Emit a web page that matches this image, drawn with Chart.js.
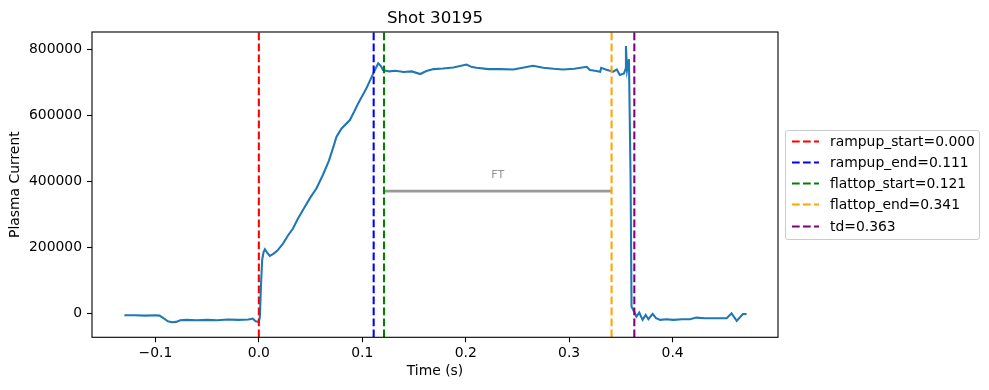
<!DOCTYPE html>
<html><head><meta charset="utf-8">
<script src="https://cdn.jsdelivr.net/npm/chart.js@4/dist/chart.umd.min.js"></script>
<style>
html,body{margin:0;padding:0;background:#fff;}
#wrap{position:relative;width:989px;height:390px;font-family:"DejaVu Sans",sans-serif;}
#c{position:absolute;left:0;top:0;}
#title{position:absolute;left:92px;width:686px;top:8px;line-height:20px;text-align:center;font-size:16.67px;color:#000;}
#legend{position:absolute;left:785px;top:130px;width:195px;height:110px;border:1px solid #cccccc;border-radius:3px;box-sizing:border-box;background:#fff;}
.row{position:absolute;left:0;height:20px;line-height:20px;font-size:13.9px;white-space:nowrap;color:#000;}
.row svg{position:absolute;left:5.7px;top:9px;}
.row span{position:absolute;left:44px;top:0;}
</style></head>
<body>
<div id="wrap">
<canvas id="c" width="989" height="390"></canvas>
<div id="title">Shot 30195</div>
<div id="legend"></div>
</div>
<script>
// ---- data ----
const shotTitle = 'Shot 30195';
const timeS = [
-0.130,-0.120,-0.110,-0.100,-0.096,-0.092,-0.088,-0.084,-0.080,-0.076,-0.070,-0.060,-0.050,-0.040,-0.030,-0.020,-0.010,-0.006,-0.003,0.000,
0.001,0.002,0.0032,0.0045,0.0058,0.008,0.0106,0.014,0.018,0.0235,0.028,0.033,0.038,0.0445,0.050,0.0558,0.062,0.0677,0.0719,0.0751,
0.080,0.088,0.092,0.096,0.104,0.1106,0.1154,0.118,0.120,0.126,0.132,0.140,0.148,0.156,0.162,0.1689,0.178,0.188,0.2008,0.206,
0.2105,0.222,0.2331,0.246,0.255,0.265,0.275,0.285,0.294,0.305,0.317,0.320,0.325,0.330,0.331,0.336,0.3427,0.346,0.349,0.353,
0.3545,0.3549,0.3556,0.356,0.3578,0.3594,0.3603,0.362,0.365,0.3678,0.371,0.374,0.3766,0.3807,0.384,0.388,0.394,0.4007,0.409,0.4168,
0.423,0.431,0.439,0.4523,0.457,0.462,0.468,0.4715];
const plasmaCurrent = [
-6000,-6000,-7000,-6000,-7000,-15000,-24000,-27000,-26000,-21000,-20000,-21000,-20000,-21000,-19000,-20000,-19000,-16000,-24000,-26000,
-10000,80000,161000,185000,194000,184000,174000,180000,190000,212000,235000,257000,288000,323000,352000,379000,420000,462000,503000,535000,
560000,585700,610000,636000,681700,727000,757500,749000,737000,733000,735000,731000,733000,725000,734000,740000,742000,745000,754000,746000,
744000,740000,740000,739000,744000,750000,744000,741000,739000,741000,747000,737000,735000,732000,744000,738000,732000,739000,722000,727000,
740000,810000,760000,737000,770000,400000,20000,10000,-10000,2000,-20000,-5000,-18000,-2000,-15000,-20000,-18000,-20000,-18000,-18000,
-13000,-15000,-15000,-15000,0,-23000,-2000,-2000];
const eventNames = ['rampup_start','rampup_end','flattop_start','flattop_end','td'];
const eventTimes = [0.000, 0.111, 0.121, 0.341, 0.363];
const ftStart = 0.121, ftEnd = 0.341, ftLevel = 370000, ftLabelLevel = 420000;
const xTicks = [-0.1, 0.0, 0.1, 0.2, 0.3, 0.4];
const xTickLabels = ['\u22120.1','0.0','0.1','0.2','0.3','0.4'];
const yTicks = [0, 200000, 400000, 600000, 800000];
const yTickLabels = ['0','200000','400000','600000','800000'];
const xLimits = [-0.1613, 0.5019];
const yLimits = [-72700, 852400];

// ---- styles ----
const eventColors = ['#ff0000','#0000ff','#008000','#ffa500','#800080'];
const FONT = '"DejaVu Sans", sans-serif';
const DASH = [7.7, 3.3];

document.getElementById('title').textContent = shotTitle;

// legend
const leg = document.getElementById('legend');
eventNames.forEach((n, i) => {
  const row = document.createElement('div');
  row.className = 'row';
  row.style.top = (9.7 - 10 + 21.2 * i) + 'px';
  row.innerHTML = '<svg width="27" height="3"><line x1="0" y1="1.5" x2="27" y2="1.5" stroke="' + eventColors[i] +
    '" stroke-width="2.08" stroke-dasharray="7.7,3.3"/></svg><span></span>';
  row.querySelector('span').textContent = n + '=' + eventTimes[i].toFixed(3);
  leg.appendChild(row);
});

const datasets = [];
datasets.push({
  label: 'Plasma Current',
  data: timeS.map((t, i) => ({x: t, y: plasmaCurrent[i]})),
  borderColor: '#1f77b4', backgroundColor: '#1f77b4', borderWidth: 2.08,
  pointRadius: 0, showLine: true, tension: 0, order: 3
});
eventNames.forEach((n, i) => {
  datasets.push({
    label: n + '=' + eventTimes[i].toFixed(3),
    data: [{x: eventTimes[i], y: yLimits[0]}, {x: eventTimes[i], y: yLimits[1]}],
    borderColor: eventColors[i], borderWidth: 2.08, borderDash: DASH,
    pointRadius: 0, showLine: true, order: 1
  });
});
datasets.push({
  label: 'FT',
  data: [{x: ftStart, y: ftLevel}, {x: ftEnd, y: ftLevel}],
  borderColor: 'rgba(128,128,128,0.8)', borderWidth: 2.78,
  pointRadius: 0, showLine: true, order: 2
});

const frame = {
  id: 'frame',
  afterDatasetsDraw(chart) {
    const {ctx, chartArea: a, scales} = chart;
    ctx.save();
    ctx.fillStyle = 'rgba(128,128,128,0.85)';
    ctx.font = '11px ' + FONT;
    ctx.textAlign = 'center';
    ctx.textBaseline = 'middle';
    ctx.fillText('FT', scales.x.getPixelForValue((ftStart + ftEnd) / 2), scales.y.getPixelForValue(ftLabelLevel));
    ctx.strokeStyle = '#000';
    ctx.lineWidth = 1.1;
    ctx.strokeRect(a.left, a.top, a.right - a.left, a.bottom - a.top);
    ctx.restore();
  }
};

function labelFor(vals, labels, v) {
  const i = vals.findIndex(t => Math.abs(t - v) < 1e-9);
  return i >= 0 ? labels[i] : '';
}

new Chart(document.getElementById('c'), {
  type: 'scatter',
  data: {datasets},
  options: {
    responsive: false, animation: false, devicePixelRatio: 1,
    layout: {padding: {left: 0, top: 32, right: 211, bottom: 0}},
    plugins: {legend: {display: false}, tooltip: {enabled: false}, title: {display: false}},
    scales: {
      x: {
        type: 'linear', min: xLimits[0], max: xLimits[1],
        afterBuildTicks: s => { s.ticks = xTicks.map(v => ({value: v})); },
        afterFit: s => { s.height = 390 - 337.3; },
        ticks: {callback: v => labelFor(xTicks, xTickLabels, v), color: '#000', font: {family: FONT, size: 13.9}, padding: 3, maxRotation: 0, autoSkip: false},
        grid: {display: true, drawOnChartArea: false, drawTicks: true, tickLength: 5, tickWidth: 1.1, tickColor: '#000'},
        border: {display: false},
        title: {display: true, text: 'Time (s)', color: '#000', font: {family: FONT, size: 13.9}, padding: {top: 0, bottom: 10.7}}
      },
      y: {
        type: 'linear', min: yLimits[0], max: yLimits[1],
        afterBuildTicks: s => { s.ticks = yTicks.map(v => ({value: v})); },
        afterFit: s => { s.width = 92; },
        ticks: {callback: v => labelFor(yTicks, yTickLabels, v), color: '#000', font: {family: FONT, size: 13.9}, padding: 5, autoSkip: false},
        grid: {display: true, drawOnChartArea: false, drawTicks: true, tickLength: 5, tickWidth: 1.1, tickColor: '#000'},
        border: {display: false},
        title: {display: true, text: 'Plasma Current', color: '#000', font: {family: FONT, size: 13.9}, padding: {top: 7.5, bottom: 0}}
      }
    }
  },
  plugins: [frame]
});
</script>
</body></html>
